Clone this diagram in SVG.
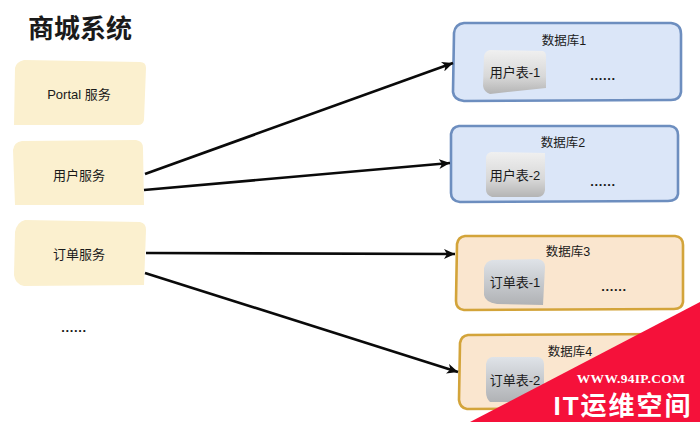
<svg xmlns="http://www.w3.org/2000/svg" width="700" height="422" viewBox="0 0 700 422">
<style>
text{font-family:"Liberation Sans","Noto Sans CJK SC",sans-serif;fill:#1a1a1a;text-anchor:middle}
.svc{fill:#fbf0cf}
.t{font-size:13px}
.db{font-size:12.5px}
.dots{font-size:13px;font-weight:bold;letter-spacing:.6px}
.blue{fill:#dbe6f8;stroke:#6d8ebf;stroke-width:2.6}
.gold{fill:#fae6cf;stroke:#d3a43a;stroke-width:2.6}
.tbl{fill:url(#g)}
.tbl2{fill:url(#g2)}
.line{fill:none;stroke:#0a0a0a;stroke-width:2.6;marker-end:url(#a)}
</style>
<defs>
<linearGradient id="g" x1="0" y1="0" x2="0" y2="1"><stop offset="0" stop-color="#f0f0f0"/><stop offset=".6" stop-color="#d8d8d8"/><stop offset="1" stop-color="#b4b4b4"/></linearGradient>
<linearGradient id="g2" x1="0" y1="0" x2="0" y2="1"><stop offset="0" stop-color="#dfe3e8"/><stop offset="1" stop-color="#b0b2b5"/></linearGradient>
<marker id="a" viewBox="0 0 12 10" refX="11" refY="5" markerWidth="12" markerHeight="10" markerUnits="userSpaceOnUse" orient="auto"><path d="M0 0L11 5L0 10L3 5Z" fill="#0a0a0a"/></marker>
</defs>
<text x="80" y="38" style="font-size:26px;font-weight:bold">商城系统</text>
<g id="portal"><path class="svc" d="M24 60L140 62Q146 62 146 68L144 120Q143 125 138 125L14 125L15 68Q16 62 24 60Z"/><text class="t" x="79" y="99">Portal 服务</text></g>
<g id="user"><path class="svc" d="M22 141L136 140Q143 141 143 148L144 205L15 205L13 150Q14 142 22 141Z"/><text class="t" x="79" y="180">用户服务</text></g>
<g id="order"><path class="svc" d="M25 220L140 222Q146 223 146 230L144 285L24 286Q15 284 14 275L15 232Q17 222 25 220Z"/><text class="t" x="79" y="259">订单服务</text></g>
<text class="dots" x="74" y="332">......</text>
<g id="db1"><path class="blue" d="M464 23L671 23Q681 24 681 34L681 92Q680 100 671 100L464 101Q454 100 453 92L454 33Q455 24 464 23Z"/><text class="db" x="564" y="45">数据库1</text><path class="tbl" d="M490 50L543 51Q546 52 546 56L546 88L490 94Q484 92 483 86L484 56Q485 51 490 50Z"/><text class="t" x="515" y="77">用户表-1</text><text class="dots" x="603" y="80">......</text></g>
<g id="db2"><path class="blue" d="M459 126L670 126Q678 127 678 135L678 194Q677 201 668 201L460 202Q451 201 451 193L451 134Q452 127 459 126Z"/><text class="db" x="563" y="147">数据库2</text><path class="tbl" d="M491 152L545 153L545 190Q544 197 538 197L492 197Q486 195 486 190L486 157Q487 153 491 152Z"/><text class="t" x="515" y="180">用户表-2</text><text class="dots" x="603" y="186">......</text></g>
<g id="db3"><path class="gold" d="M465 236L675 236Q683 237 683 245L683 302Q682 309 674 309L464 310Q456 309 456 301L457 244Q458 237 465 236Z"/><text class="db" x="568" y="256">数据库3</text><path class="tbl2" d="M492 260L538 259Q545 260 545 267L543 305L497 304Q485 302 484 295L484 268Q486 261 492 260Z"/><text class="t" x="515" y="287">订单表-1</text><text class="dots" x="614" y="291">......</text></g>
<g id="db4"><path class="gold" d="M468 335L678 334Q686 335 686 343L686 401Q685 408 677 408L467 409Q460 408 459 400L460 343Q461 336 468 335Z"/><text class="db" x="570" y="356">数据库4</text><path class="tbl2" d="M492 357L538 357Q544 358 544 364L544 402L490 402Q486 398 486 392L486 364Q487 358 492 357Z"/><text class="t" x="515" y="385">订单表-2</text></g>
<g id="connectors">
<path class="line" d="M145 174L453 63"/>
<path class="line" d="M144 190L450 163"/>
<path class="line" d="M146 253L455 254"/>
<path class="line" d="M145 273L458 372"/>
</g>
<g id="watermark">
<path d="M700 302L700 422L470 422Z" fill="#f5113a"/>
<text x="631" y="383" style="font-size:13.5px;font-weight:bold;fill:#fff;font-family:'Liberation Serif','Noto Sans CJK SC',serif;letter-spacing:.3px">WWW.94IP.COM</text>
<text x="623" y="415" style="font-size:26px;font-weight:bold;fill:#fff;letter-spacing:2px">IT运维空间</text>
</g>
</svg>
